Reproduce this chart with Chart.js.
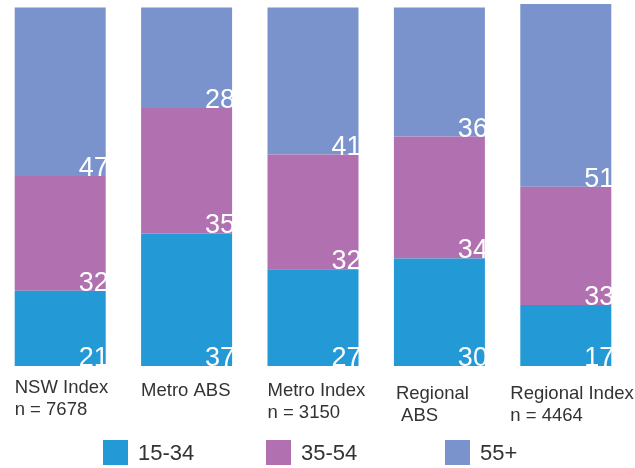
<!DOCTYPE html>
<html>
<head>
<meta charset="utf-8">
<script src="https://cdn.jsdelivr.net/npm/chart.js@4/dist/chart.umd.min.js"></script>
<style>
  html, body { margin: 0; padding: 0; background: #ffffff; }
  #wrap { position: relative; width: 635px; height: 468px; overflow: hidden; background: #fff; }
  #c { position: absolute; left: -3px; top: 0; }
  .lg { position: absolute; top: 440px; height: 25px; display: flex; align-items: center;
        font-family: "Liberation Sans", Arial, sans-serif; font-size: 22px; color: #333; }
  .lg i { display: inline-block; width: 25px; height: 25px; margin-right: 10px; }
</style>
</head>
<body>
<div id="wrap">
  <canvas id="c" width="638" height="468"></canvas>
</div>
<script>
// ---- data ----
const categories = [
  ["NSW Index", "n = 7678"],
  ["Metro ABS"],
  ["Metro Index", "n = 3150"],
  ["Regional", " ABS"],
  ["Regional Index", "n = 4464"]
];
const seriesNames = ["15-34", "35-54", "55+"];
const age15to34 = [21, 37, 27, 30, 17];
const age35to54 = [32, 35, 32, 34, 33];
const age55plus = [47, 28, 41, 36, 51];

// ---- styles ----
const seriesColors = ["#2399D6", "#B171B0", "#7A93CC"];
const labelNudgeX = [0, 0, 0, 2, -10];
const labelNudgeY = [0, 3, 3, 6, 6];
const legendLeft = [103, 266, 445];

const seriesValues = [age15to34, age35to54, age55plus];

const valueLabels = {
  id: 'valueLabels',
  afterDatasetsDraw(chart) {
    const ctx = chart.ctx;
    ctx.save();
    ctx.fillStyle = '#ffffff';
    ctx.font = '27px "Liberation Sans", Arial, sans-serif';
    ctx.textAlign = 'right';
    ctx.textBaseline = 'alphabetic';
    chart.data.datasets.forEach((ds, d) => {
      const meta = chart.getDatasetMeta(d);
      meta.data.forEach((el, i) => {
        const p = el.getProps(['x', 'base', 'width'], true);
        ctx.fillText(String(ds.data[i]), p.x + p.width / 2 + 3, p.base);
      });
    });
    ctx.restore();
  }
};

const categoryLabels = {
  id: 'categoryLabels',
  afterDraw(chart) {
    const ctx = chart.ctx;
    const meta = chart.getDatasetMeta(0);
    const bottom = chart.chartArea.bottom;
    ctx.save();
    ctx.fillStyle = '#333333';
    ctx.font = '18.5px "Liberation Sans", Arial, sans-serif';
    ctx.textAlign = 'left';
    ctx.textBaseline = 'alphabetic';
    chart.data.labels.forEach((lines, i) => {
      const el = meta.data[i];
      const p = el.getProps(['x', 'width'], true);
      const x0 = p.x - p.width / 2 + labelNudgeX[i];
      lines.forEach((line, k) => {
        ctx.fillText(line, x0, bottom + 27 + labelNudgeY[i] + k * 22);
      });
    });
    ctx.restore();
  }
};

const chart = new Chart(document.getElementById('c'), {
  type: 'bar',
  data: {
    labels: categories,
    datasets: seriesNames.map((name, d) => ({
      label: name,
      data: seriesValues[d],
      backgroundColor: seriesColors[d],
      borderWidth: 0,
      categoryPercentage: 1,
      barPercentage: 0.72
    }))
  },
  options: {
    responsive: false,
    animation: false,
    devicePixelRatio: 1,
    layout: { padding: { left: 0, right: 6, top: 4, bottom: 102 } },
    plugins: { legend: { display: false }, tooltip: { enabled: false } },
    scales: {
      x: { stacked: true, display: false },
      y: { stacked: true, display: false, min: 0, max: 101 }
    }
  },
  plugins: [valueLabels, categoryLabels]
});

// HTML legend built from the datasets
const wrap = document.getElementById('wrap');
chart.data.datasets.forEach((ds, d) => {
  const item = document.createElement('div');
  item.className = 'lg';
  item.style.left = legendLeft[d] + 'px';
  const sw = document.createElement('i');
  sw.style.background = ds.backgroundColor;
  item.appendChild(sw);
  item.appendChild(document.createTextNode(ds.label));
  wrap.appendChild(item);
});
</script>
</body>
</html>
